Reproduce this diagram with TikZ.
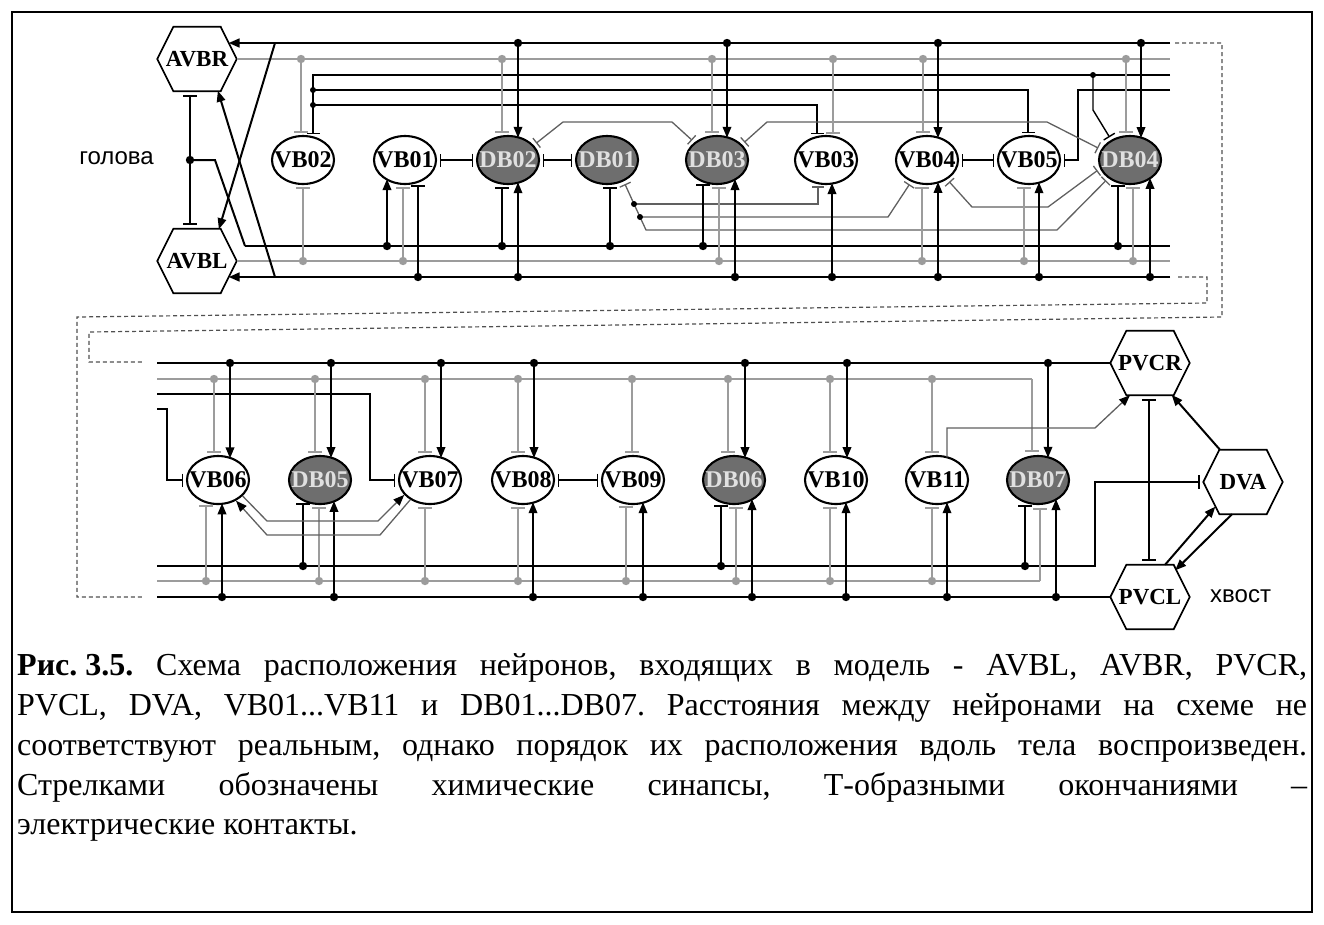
\documentclass[tikz,border=0pt]{standalone}
\usepackage{fontspec}
\setmainfont{Liberation Serif}
\newfontfamily\lsans{Liberation Sans}
\usetikzlibrary{arrows.meta,calc,shapes.geometric}
\definecolor{lg}{HTML}{9C9C9C}
\definecolor{dk}{HTML}{6E6E6E}
\definecolor{sg}{HTML}{606060}
\definecolor{dashc}{HTML}{505050}
\tikzset{
 nrn/.style={ellipse, draw, line width=2.1pt, minimum width=62pt, minimum height=48pt, inner sep=0pt, fill=white, font=\fontsize{24}{24}\selectfont\bfseries},
 drn/.style={nrn, fill=dk, text=white!88!black},
 hx/.style={rectangle, minimum width=79pt, minimum height=64pt, inner sep=0pt, font=\fontsize{23}{23}\selectfont\bfseries},
 bus/.style={line width=2.7pt},
 gbus/.style={line width=2pt, draw=lg},
 tln/.style={line width=1.4pt},
 sig/.style={line width=1.3pt, draw=sg},
 arr/.style={line width=2pt, -{Triangle[length=11pt,width=8.5pt]}, shorten >=-0.5pt},
 tee/.style={line width=2pt, -{Bar[width=14pt]}, shorten >=3pt},
 gtee/.style={tee, draw=lg},
 ttee/.style={line width=1.4pt, -{Bar[width=13pt]}, shorten >=3pt},
 stee/.style={sig, -{Bar[width=12pt]}, shorten >=3pt},
 sttee/.style={sig, {Bar[width=12pt]}-{Bar[width=12pt]}, shorten <=3pt, shorten >=3pt},
 sarr/.style={sig, -{Triangle[length=11pt,width=8.5pt,color=black]}},
 hhtee/.style={line width=1.4pt, {Bar[width=13pt]}-{Bar[width=13pt]}, shorten <=3pt, shorten >=3pt},
 vvtee/.style={line width=1.7pt, {Bar[width=14pt]}-{Bar[width=14pt]}, shorten <=4pt, shorten >=4pt},
 dashln/.style={dash pattern=on 4pt off 3pt, line width=1.2pt, draw=dashc},
}
\newcommand\hexd[1]{\draw[line width=1.7pt] (#1.west) -- ($(#1.north west)+(16,0)$) -- ($(#1.north east)+(-16,0)$) -- (#1.east) -- ($(#1.south east)+(-16,0)$) -- ($(#1.south west)+(16,0)$) -- cycle;}
\newcommand\tc[5]{%
 \pgfmathsetmacro\ddy{24*sqrt(1-((#2)/31)^2)}%
 \coordinate (by) at (0,#3);
 \coordinate (bp) at ($(#1.center |- by)+(#2,0)$);
 \draw[#4] (bp) -- ($(#1.center)+(#2,-\ddy)$);
 \fill[#5] (bp) circle[radius=4.2pt];}
\newcommand\bc[5]{%
 \pgfmathsetmacro\ddy{24*sqrt(1-((#2)/31)^2)}%
 \coordinate (by) at (0,#3);
 \coordinate (bp) at ($(#1.center |- by)+(#2,0)$);
 \draw[#4] (bp) -- ($(#1.center)+(#2,\ddy)$);
 \fill[#5] (bp) circle[radius=4.2pt];}
\begin{document}
\frenchspacing
\begin{tikzpicture}[x=1pt,y=-1pt]
\useasboundingbox (0,0) rectangle (1324,924);
\draw[line width=1.5pt] (12,12) rectangle (1312,912);
% ---------- top panel nodes
\node[hx] (AVBR) at (197,59) {AVBR}; \hexd{AVBR}
\node[hx] (AVBL) at (197,261) {AVBL}; \hexd{AVBL}
\node[nrn] (VB02) at (303,160) {\makebox[0pt]{VB02}};
\node[nrn] (VB01) at (405,160) {\makebox[0pt]{VB01}};
\node[drn] (DB02) at (508,160) {\makebox[0pt]{DB02}};
\node[drn] (DB01) at (607,160) {\makebox[0pt]{DB01}};
\node[drn] (DB03) at (717,160) {\makebox[0pt]{DB03}};
\node[nrn] (VB03) at (826,160) {\makebox[0pt]{VB03}};
\node[nrn] (VB04) at (927,160) {\makebox[0pt]{VB04}};
\node[nrn] (VB05) at (1029,160) {\makebox[0pt]{VB05}};
\node[drn] (DB04) at (1130,160) {\makebox[0pt]{DB04}};
\node[font=\lsans\fontsize{24}{24}\selectfont, anchor=east, inner sep=0pt] (head) at (154,158) {голова};
% ---------- top panel buses
\draw[bus, -{Triangle[length=11pt,width=8.5pt]}] (1170,43) -- ($(AVBR.center)+(31.5,-16)$);
\draw[gbus] (AVBR.east) -- (1170,59);
\draw[gbus] (AVBL.east) -- (1170,261);
\draw[bus, -{Triangle[length=11pt,width=8.5pt]}] (1170,277) -- ($(AVBL.center)+(31.5,16)$);
\coordinate (hj) at (190,160);
\draw[vvtee] ($(AVBR.south)+(-7,0)$) -- ($(AVBL.north)+(-7,0)$);
\draw[line width=2pt] (hj) -- (215,160) -- (245,246);
\draw[bus] (245,246) -- (1170,246);
\fill (hj) circle[radius=4.2pt];
\draw[arr] (275,43) -- ($(AVBL.north)+(22,0)$);
\draw[arr] (275,277) -- ($(AVBR.south)+(21,0)$);
% thin black lines
\draw[ttee] (1170,75) -- (313,75) -- ($(VB02.center)+(10,-22.7)$);
\draw[ttee] (313,90) -- (1028,90) -- ($(VB05.center)+(-1,-24)$);
\draw[ttee] (313,105) -- (817,105) -- ($(VB03.center)+(-9,-23)$);
\fill (313,90) circle[radius=3pt]; \fill (313,105) circle[radius=3pt];
\draw[ttee] (1093,75) -- (1093,110) -- (DB04.133);
\fill (1093,75) circle[radius=3pt];
\draw[ttee] (1170,90) -- (1078,90) -- (1078,160) -- (VB05.east);
% horizontal gap junctions
\draw[hhtee] (VB01.east) -- (DB02.west);
\draw[hhtee] (DB02.east) -- (DB01.west);
\draw[hhtee] (VB04.east) -- (VB05.west);
% thin signal lines
\draw[sttee] (DB02.30) -- (563,122) -- (672,122) -- (DB03.142);
\draw[sttee] (DB03.32) -- (767,122) -- (1047,122) -- (DB04.160);
\draw[sttee] (DB01.308) -- (634,204) -- (640,217) -- (646,230) -- (1057,230) -- (DB04.220);
\draw[stee] (634,204) -- (818,204) -- ($(VB03.center)+(-8,23.2)$);
\draw[stee] (640,217) -- (888,217) -- (VB04.234);
\draw[sttee] (VB04.316) -- (972,207) -- (1048,207) -- (DB04.196);
\fill (634,204) circle[radius=3pt]; \fill (640,217) circle[radius=3pt];
% bus A arrows
\tc{DB02}{10}{43}{arr}{black}
\tc{DB03}{10}{43}{arr}{black}
\tc{VB04}{11}{43}{arr}{black}
\tc{DB04}{11}{43}{arr}{black}
% bus B gray tees
\tc{VB02}{-2}{59}{gtee}{lg}
\tc{DB02}{-6}{59}{gtee}{lg}
\tc{DB03}{-5}{59}{gtee}{lg}
\tc{VB03}{7}{59}{gtee}{lg}
\tc{VB04}{-4}{59}{gtee}{lg}
\tc{DB04}{-4}{59}{gtee}{lg}
% bus C
\bc{VB01}{-18}{246}{arr}{black}
\bc{DB02}{-6}{246}{tee}{black}
\bc{DB01}{3}{246}{tee}{black}
\bc{DB03}{-14}{246}{tee}{black}
\bc{DB04}{-12}{246}{tee}{black}
% bus D gray
\bc{VB02}{0}{261}{gtee}{lg}
\bc{VB01}{-2}{261}{gtee}{lg}
\bc{DB03}{2}{261}{gtee}{lg}
\bc{VB04}{-5}{261}{gtee}{lg}
\bc{VB05}{-5}{261}{gtee}{lg}
\bc{DB04}{3}{261}{gtee}{lg}
% bus E
\bc{VB01}{13}{277}{tee}{black}
\bc{DB02}{10}{277}{arr}{black}
\bc{DB03}{18}{277}{arr}{black}
\bc{VB03}{6}{277}{arr}{black}
\bc{VB04}{11}{277}{arr}{black}
\bc{VB05}{10}{277}{arr}{black}
\bc{DB04}{20}{277}{arr}{black}
% dashed links between panels
\draw[dashln] (1175,43) -- (1222,43) -- (1222,317) -- (89,332) -- (89,362) -- (143,362);
\draw[dashln] (1178,277) -- (1207,277) -- (1207,303) -- (77,317) -- (77,597) -- (143,597);
% ---------- bottom panel nodes
\node[nrn] (VB06) at (218,480) {\makebox[0pt]{VB06}};
\node[drn] (DB05) at (320,480) {\makebox[0pt]{DB05}};
\node[nrn] (VB07) at (430,480) {\makebox[0pt]{VB07}};
\node[nrn] (VB08) at (523,480) {\makebox[0pt]{VB08}};
\node[nrn] (VB09) at (633,480) {\makebox[0pt]{VB09}};
\node[drn] (DB06) at (734,480) {\makebox[0pt]{DB06}};
\node[nrn] (VB10) at (836,480) {\makebox[0pt]{VB10}};
\node[nrn] (VB11) at (937,480) {\makebox[0pt]{VB11}};
\node[drn] (DB07) at (1038,480) {\makebox[0pt]{DB07}};
\node[hx] (PVCR) at (1150,363) {PVCR}; \hexd{PVCR}
\node[hx] (PVCL) at (1150,597) {PVCL}; \hexd{PVCL}
\node[hx] (DVA) at (1243,482) {DVA}; \hexd{DVA}
\node[font=\lsans\fontsize{24}{24}\selectfont, anchor=west, inner sep=0pt] (tail) at (1210,596) {хвост};
% bottom buses
\draw[bus] (157,363) -- (PVCR.west);
\draw[gbus] (157,379) -- (1032,379);
\draw[gtee] (1032,379) -- ($(DB07.north)+(-6,0)$);
\draw[ttee] (157,394) -- (370,394) -- (370,480) -- (VB07.west);
\draw[ttee] (157,409) -- (167,409) -- (167,480) -- (VB06.west);
\draw[line width=2.2pt, -{Bar[width=14pt]}, shorten >=3pt] (157,566) -- (1095,566) -- (1095,482) -- (DVA.west);
\draw[gbus] (157,581) -- (1040,581);
\draw[gtee] (1040,581) -- ($(DB07.south)+(2,0)$);
\draw[bus] (157,597) -- (PVCL.west);
% bus F arrows
\tc{VB06}{12}{363}{arr}{black}
\tc{DB05}{11}{363}{arr}{black}
\tc{VB07}{11}{363}{arr}{black}
\tc{VB08}{11}{363}{arr}{black}
\tc{DB06}{11}{363}{arr}{black}
\tc{VB10}{11}{363}{arr}{black}
\tc{DB07}{10}{363}{arr}{black}
% bus G gray
\tc{VB06}{-4}{379}{gtee}{lg}
\tc{DB05}{-5}{379}{gtee}{lg}
\tc{VB07}{-5}{379}{gtee}{lg}
\tc{VB08}{-5}{379}{gtee}{lg}
\tc{VB09}{-1}{379}{gtee}{lg}
\tc{DB06}{-6}{379}{gtee}{lg}
\tc{VB10}{-6}{379}{gtee}{lg}
\tc{VB11}{-5}{379}{gtee}{lg}
% bus J
\bc{DB05}{-17}{566}{tee}{black}
\bc{DB06}{-13}{566}{tee}{black}
\bc{DB07}{-13}{566}{tee}{black}
% bus K gray
\bc{VB06}{-12}{581}{gtee}{lg}
\bc{DB05}{-1}{581}{gtee}{lg}
\bc{VB07}{-5}{581}{gtee}{lg}
\bc{VB08}{-5}{581}{gtee}{lg}
\bc{VB09}{-7}{581}{gtee}{lg}
\bc{DB06}{2}{581}{gtee}{lg}
\bc{VB10}{-6}{581}{gtee}{lg}
\bc{VB11}{-5}{581}{gtee}{lg}
% bus L
\bc{VB06}{4}{597}{arr}{black}
\bc{DB05}{14}{597}{arr}{black}
\bc{VB08}{10}{597}{arr}{black}
\bc{VB09}{10}{597}{arr}{black}
\bc{DB06}{18}{597}{arr}{black}
\bc{VB10}{10}{597}{arr}{black}
\bc{VB11}{10}{597}{arr}{black}
\bc{DB07}{18}{597}{arr}{black}
% other links
\draw[hhtee] (VB08.east) -- (VB09.west);
\draw[sarr] (VB06.327) -- (267,521) -- (378,521) -- (VB07.210);
\draw[sarr] (VB07.225) -- (380,535) -- (267,535) -- (VB06.311);
\draw[sarr] ($(VB11.center)+(10,-22.7)$) -- (947,428) -- (1095,428) -- ($(PVCR.south)+(-20,0)$);
\draw[vvtee] ($(PVCR.south)+(-1,0)$) -- ($(PVCL.north)+(-1,0)$);
\draw[arr] ($(DVA.north)+(-23,0)$) -- ($(PVCR.south)+(22,0)$);
\draw[arr] ($(PVCL.north)+(15,0)$) -- ($(DVA.center)+(-28,25)$);
\draw[arr] ($(DVA.south)+(-11,0)$) -- ($(PVCL.center)+(25.5,-27)$);
% ---------- caption
\begin{scope}[every node/.style={anchor=base west, inner sep=0pt, font=\fontsize{32}{40}\selectfont}]
\node (c1) at (17,675) {\makebox[1290pt][s]{\textbf{Рис.\kern0.25em3.5.} Схема расположения нейронов, входящих в модель - AVBL, AVBR, PVCR,}};
\node (c2) at (17,715) {\makebox[1290pt][s]{PVCL, DVA, VB01...VB11 и DB01...DB07. Расстояния между нейронами на схеме не}};
\node (c3) at (17,755) {\makebox[1290pt][s]{соответствуют реальным, однако порядок их расположения вдоль тела воспроизведен.}};
\node (c4) at (17,795) {\makebox[1290pt][s]{Стрелками обозначены химические синапсы, Т-образными окончаниями –}};
\node (c5) at (17,834) {электрические контакты.};
\end{scope}
\end{tikzpicture}
\end{document}
